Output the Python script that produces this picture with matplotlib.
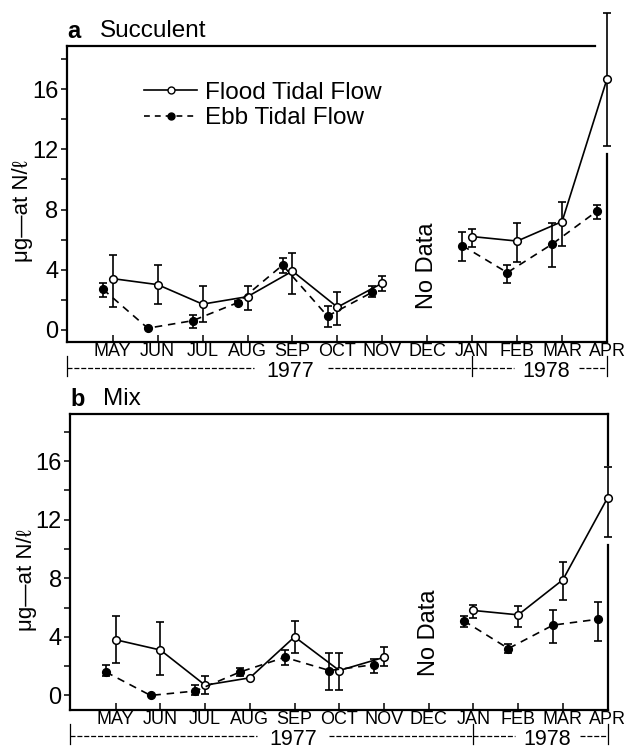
import numpy as np
import matplotlib
matplotlib.use('Agg')
import matplotlib.pyplot as plt
from matplotlib.lines import Line2D

plt.rcParams['font.family'] = ['Liberation Sans', 'DejaVu Sans']

months = ['MAY', 'JUN', 'JUL', 'AUG', 'SEP', 'OCT', 'NOV', 'DEC', 'JAN', 'FEB', 'MAR', 'APR']
# month index for each sample (no December sample)
idx = np.array([0, 1, 2, 3, 4, 5, 6, 8, 9, 10, 11])

# a  Succulent
a_flood = np.array([3.4, 3.0, 1.7, 2.2, 3.9, 1.5, 3.1, 6.2, 5.9, 7.2, 16.7])
a_flood_hi = np.array([5.0, 4.3, 2.9, 2.9, 5.1, 2.5, 3.6, 6.7, 7.1, 8.5, 21.1])
a_flood_lo = np.array([1.5, 1.7, 0.5, 1.3, 2.4, 0.3, 2.6, 5.5, 4.5, 5.6, 12.2])
a_ebb = np.array([2.7, 0.1, 0.6, 1.8, 4.3, 0.9, 2.5, 5.6, 3.8, 5.7, 7.9])
a_ebb_hi = np.array([3.1, 0.1, 1.0, 1.9, 4.8, 1.6, 2.9, 6.5, 4.3, 7.1, 8.3])
a_ebb_lo = np.array([2.2, 0.1, 0.1, 1.7, 3.8, 0.2, 2.2, 4.6, 3.1, 4.2, 7.4])

# b  Mix
b_flood = np.array([3.8, 3.1, 0.7, 1.2, 4.0, 1.7, 2.6, 5.8, 5.5, 7.9, 13.5])
b_flood_hi = np.array([5.4, 5.0, 1.3, 1.2, 5.1, 2.9, 3.3, 6.2, 6.1, 9.1, 15.6])
b_flood_lo = np.array([2.2, 1.4, 0.1, 1.2, 2.9, 0.4, 2.0, 5.3, 4.7, 6.5, 10.8])
b_ebb = np.array([1.6, 0.0, 0.3, 1.6, 2.6, 1.7, 2.1, 5.1, 3.2, 4.8, 5.2])
b_ebb_hi = np.array([2.1, 0.0, 0.7, 1.9, 3.1, 2.9, 2.5, 5.4, 3.5, 5.8, 6.4])
b_ebb_lo = np.array([1.3, 0.0, 0.0, 1.3, 2.1, 0.4, 1.5, 4.7, 2.9, 3.6, 3.7])

ebb_shift = -0.22
ebb_dash = (0, (4.5, 3.5))


def draw_series(ax, x, y, lo, hi, filled, ls):
    fc = 'k' if filled else 'white'
    yerr = [y - lo, hi - y]
    ax.errorbar(x, y, yerr=yerr, fmt='none', ecolor='k', elinewidth=1.2,
                capsize=2.8, capthick=1.2, clip_on=False, zorder=2)
    # two pieces: MAY-NOV and JAN-APR
    for s in (slice(0, 7), slice(7, 11)):
        ax.plot(x[s], y[s], color='k', lw=1.2, ls=ls, marker='o', ms=5.5,
                mfc=fc, mec='k', mew=1.1, clip_on=False, zorder=3)


def frame(ax, ylim, fl_lo, fl_hi, top_end=None, yb=-0.09, yt=-0.102):
    ax.set_xlim(-1.02, 11)
    ax.set_ylim(*ylim)
    ax.spines['right'].set_visible(False)
    ax.spines['top'].set_visible(False)
    for s in ('left', 'bottom'):
        ax.spines[s].set_linewidth(1.6)
    # top line
    xe = 11 if top_end is None else top_end
    ax.plot([-1.02, xe], [ylim[1], ylim[1]], color='k', lw=1.6, clip_on=False)
    # right spine, broken around the APR error bar
    segs = [(ylim[0], fl_lo - 0.5)]
    if fl_hi < ylim[1]:
        segs.append((fl_hi + 0.15, ylim[1]))
    for y0, y1 in segs:
        ax.plot([11, 11], [y0, y1], color='k', lw=1.6, clip_on=False)

    ax.set_yticks([0, 4, 8, 12, 16])
    ax.set_yticks([2, 6, 10, 14, 18], minor=True)
    ax.tick_params(axis='y', which='both', direction='out', length=4, width=1.1,
                   labelsize=17, pad=2)
    ax.set_xticks(np.arange(12))
    ax.set_xticklabels(months)
    ax.tick_params(axis='x', direction='in', length=5, width=1.1, labelsize=13, pad=1)
    ax.set_ylabel('μg—at N/ℓ', fontsize=16)
    ax.yaxis.set_label_coords(-0.062, 0.44)

    ax.text(7, 4.25, 'No Data', rotation=90, ha='center', va='center', fontsize=17)

    # year brackets under the month labels
    tr = ax.get_xaxis_transform()
    kw = dict(color='k', lw=0.9, ls=(0, (4, 1.5)), transform=tr, clip_on=False)
    for x0, x1 in [(-1.02, 3.15), (4.78, 8), (8, 8.93), (10.38, 11)]:
        ax.plot([x0, x1], [yb, yb], **kw)
    for xv in (-1.02, 8, 11):
        ax.plot([xv, xv], [yb - 0.025, yb + 0.04], color='k', lw=0.9,
                transform=tr, clip_on=False)
    ax.text(3.96, yt, '1977', transform=tr, ha='center', va='center', fontsize=15.5)
    ax.text(9.65, yt, '1978', transform=tr, ha='center', va='center', fontsize=15.5)


fig = plt.figure(figsize=(6.31, 7.51), dpi=100)
ax1 = fig.add_axes([0.106, 0.545, 0.856, 0.394])
ax2 = fig.add_axes([0.111, 0.0545, 0.852, 0.394])

# panel a
draw_series(ax1, idx, a_flood, a_flood_lo, a_flood_hi, False, '-')
draw_series(ax1, idx + ebb_shift, a_ebb, a_ebb_lo, a_ebb_hi, True, ebb_dash)
frame(ax1, (-0.8, 18.9), a_flood_lo[-1], a_flood_hi[-1], top_end=10.73)
ax1.text(0.0, 1.05, 'a', transform=ax1.transAxes, fontsize=17, fontweight='bold',
         ha='left', va='center')
ax1.text(0.062, 1.05, 'Succulent', transform=ax1.transAxes, fontsize=17.5,
         ha='left', va='center')

handles = [Line2D([0], [0], color='k', lw=1.2, ls='-', marker='o', ms=5, mfc='white', mec='k'),
           Line2D([0], [0], color='k', lw=1.2, ls=(0, (3.5, 3)), marker='o', ms=5, mfc='k', mec='k')]
ax1.legend(handles, ['Flood Tidal Flow', 'Ebb Tidal Flow'], loc='upper left',
           bbox_to_anchor=(0.12, 0.92), frameon=False, fontsize=17.5, handlelength=2.2,
           handletextpad=0.3, labelspacing=0.15, borderpad=0)

# panel b
draw_series(ax2, idx, b_flood, b_flood_lo, b_flood_hi, False, '-')
draw_series(ax2, idx + ebb_shift, b_ebb, b_ebb_lo, b_ebb_hi, True, ebb_dash)
frame(ax2, (-1.0, 19.2), b_flood_lo[-1], b_flood_hi[-1], yb=-0.088, yt=-0.1
      )
ax2.text(0.0, 1.05, 'b', transform=ax2.transAxes, fontsize=17, fontweight='bold',
         ha='left', va='center')
ax2.text(0.062, 1.05, 'Mix', transform=ax2.transAxes, fontsize=17.5,
         ha='left', va='center')

fig.savefig('out.png', dpi=100)
